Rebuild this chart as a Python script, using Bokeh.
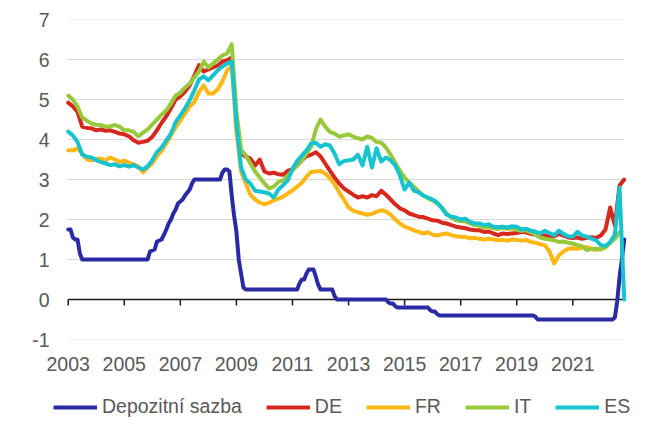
import numpy as np
from bokeh.plotting import figure
from bokeh.layouts import column
from bokeh.models import Range1d, FixedTicker, Legend, LegendItem
from bokeh.embed import file_html
from bokeh.resources import INLINE

# ---- data (months since Jan 2003) ----
months = list(range(0, 239, 2))

deposit_months = [0, 1, 2, 3, 4, 5, 6, 34, 35, 37, 38, 40, 41, 42, 43, 44, 45, 46, 47, 49, 50, 52, 53, 54,
                  65, 66, 67, 68, 69, 70, 71, 72, 73, 74, 75, 76, 98, 99, 100, 101, 102, 103, 105, 106,
                  107, 108, 113, 114, 115, 136, 137, 138, 139, 140, 141, 154, 155, 156, 157, 158, 159,
                  199, 200, 201, 233, 234, 235, 236, 237, 238]
deposit = [1.75, 1.75, 1.55, 1.5, 1.5, 1.15, 1.0, 1.0, 1.2, 1.25, 1.45, 1.5, 1.62, 1.75, 1.9, 2.0, 2.15,
           2.25, 2.4, 2.5, 2.6, 2.75, 2.9, 3.0, 3.0, 3.17, 3.25, 3.25, 3.2, 2.6, 2.1, 1.7, 1.0, 0.65,
           0.3, 0.25, 0.25, 0.4, 0.5, 0.5, 0.65, 0.75, 0.75, 0.57, 0.37, 0.25, 0.25, 0.09, 0.0, 0.0,
           -0.07, -0.1, -0.1, -0.17, -0.2, -0.2, -0.27, -0.3, -0.3, -0.37, -0.4, -0.4, -0.43, -0.5,
           -0.5, -0.45, -0.05, 0.55, 1.0, 1.5]

de = [4.92, 4.83, 4.69, 4.32, 4.29, 4.28, 4.23, 4.25, 4.22, 4.23,
      4.19, 4.15, 4.13, 4.08, 3.98, 3.92, 3.94, 3.97, 4.07, 4.23,
      4.42, 4.58, 4.78, 5.00, 5.08, 5.20, 5.35, 5.60, 5.86, 5.70,
      5.75, 5.80, 5.85, 5.95, 5.98, 6.05, 4.50, 3.65, 3.57, 3.52,
      3.35, 3.50, 3.20, 3.15, 3.17, 3.13, 3.12, 3.22, 3.25, 3.35,
      3.48, 3.58, 3.62, 3.68, 3.58, 3.40, 3.22, 3.05, 2.90, 2.78,
      2.70, 2.62, 2.55, 2.58, 2.55, 2.61, 2.58, 2.72, 2.62, 2.50,
      2.38, 2.28, 2.23, 2.15, 2.11, 2.07, 2.06, 2.02, 1.98, 1.97,
      1.92, 1.90, 1.86, 1.82, 1.80, 1.78, 1.75, 1.73, 1.73, 1.69,
      1.70, 1.65, 1.61, 1.65, 1.64, 1.65, 1.66, 1.69, 1.68, 1.64,
      1.62, 1.58, 1.60, 1.56, 1.58, 1.64, 1.60, 1.55, 1.54, 1.55,
      1.52, 1.54, 1.56, 1.54, 1.60, 1.75, 2.30, 1.85, 2.85, 3.00]

fr = [3.73, 3.73, 3.78, 3.65, 3.50, 3.48, 3.52, 3.52, 3.48, 3.55,
      3.50, 3.44, 3.47, 3.42, 3.38, 3.33, 3.18, 3.30, 3.40, 3.58,
      3.72, 3.90, 4.10, 4.30, 4.48, 4.65, 4.82, 4.94, 5.19, 5.35,
      5.15, 5.15, 5.25, 5.45, 5.72, 5.85, 4.20, 3.20, 2.90, 2.62,
      2.50, 2.42, 2.38, 2.42, 2.48, 2.52, 2.57, 2.65, 2.73, 2.82,
      2.92, 3.07, 3.19, 3.20, 3.21, 3.15, 3.03, 2.88, 2.68, 2.50,
      2.30, 2.22, 2.18, 2.15, 2.12, 2.14, 2.19, 2.23, 2.20, 2.12,
      2.00, 1.90, 1.82, 1.78, 1.73, 1.69, 1.65, 1.68, 1.62, 1.60,
      1.63, 1.65, 1.61, 1.58, 1.57, 1.56, 1.53, 1.54, 1.52, 1.50,
      1.52, 1.50, 1.48, 1.49, 1.47, 1.50, 1.49, 1.47, 1.49, 1.44,
      1.42, 1.38, 1.36, 1.20, 0.90, 1.10, 1.20, 1.27, 1.28, 1.27,
      1.30, 1.31, 1.27, 1.24, 1.26, 1.30, 1.42]

it = [5.10, 5.00, 4.82, 4.55, 4.47, 4.40, 4.37, 4.36, 4.32, 4.33,
      4.36, 4.32, 4.23, 4.23, 4.19, 4.08, 4.17, 4.25, 4.38, 4.50,
      4.62, 4.73, 4.90, 5.10, 5.17, 5.30, 5.40, 5.55, 5.70, 5.95,
      5.80, 5.90, 6.00, 6.10, 6.15, 6.38, 4.70, 3.75, 3.60, 3.40,
      3.20, 3.05, 2.90, 2.78, 2.82, 2.94, 2.98, 3.10, 3.23, 3.36,
      3.48, 3.65, 3.82, 4.25, 4.50, 4.32, 4.19, 4.15, 4.07, 4.10,
      4.13, 4.07, 4.03, 4.00, 4.08, 4.04, 3.94, 3.92, 3.80, 3.62,
      3.42, 3.22, 3.05, 2.92, 2.82, 2.70, 2.60, 2.53, 2.48, 2.40,
      2.30, 2.15, 2.05, 1.98, 1.96, 1.95, 1.90, 1.86, 1.84, 1.80,
      1.82, 1.78, 1.76, 1.79, 1.77, 1.78, 1.74, 1.72, 1.73, 1.68,
      1.62, 1.55, 1.52, 1.50, 1.48, 1.44, 1.45, 1.42, 1.40, 1.36,
      1.33, 1.23, 1.27, 1.27, 1.25, 1.32, 1.42, 1.52, 1.68]

es = [4.20, 4.10, 3.94, 3.62, 3.57, 3.55, 3.48, 3.44, 3.40, 3.36,
      3.38, 3.33, 3.36, 3.32, 3.36, 3.30, 3.25, 3.33, 3.48, 3.69,
      3.80, 3.98, 4.15, 4.44, 4.60, 4.78, 4.98, 5.23, 5.50, 5.58,
      5.48, 5.60, 5.73, 5.82, 5.90, 5.95, 4.40, 3.30, 3.00, 2.90,
      2.72, 2.70, 2.68, 2.65, 2.55, 2.75, 2.86, 2.98, 3.27, 3.46,
      3.60, 3.73, 3.90, 3.92, 3.82, 3.88, 3.85, 3.65, 3.38, 3.46,
      3.48, 3.50, 3.62, 3.35, 3.82, 3.30, 3.78, 3.45, 3.55, 3.48,
      3.35, 3.10, 2.75, 2.92, 2.72, 2.68, 2.60, 2.55, 2.50, 2.42,
      2.28, 2.12, 2.07, 2.05, 2.00, 2.02, 1.94, 1.90, 1.90, 1.86,
      1.88, 1.82, 1.81, 1.82, 1.80, 1.83, 1.82, 1.75, 1.77, 1.72,
      1.70, 1.65, 1.72, 1.66, 1.61, 1.72, 1.64, 1.58, 1.57, 1.69,
      1.60, 1.57, 1.52, 1.48, 1.36, 1.34, 1.44, 1.62, 2.80, 0.00]

x_ticks = [2003, 2005, 2007, 2009, 2011, 2013, 2015, 2017, 2019, 2021]
y_ticks = [-1, 0, 1, 2, 3, 4, 5, 6, 7]
labels = ["Depozitní sazba", "DE", "FR", "IT", "ES"]
colors = ["#2A2AA5", "#D7281E", "#FDB714", "#98C93C", "#17C3CF"]

FONT = "Liberation Sans"
TXT = "#595959"
START = 2003
END = START + months[-1] / 12.0

def to_year(m):
    return START + np.asarray(m, dtype=float) / 12.0

# frame is a little wider than the data span so the legend strip below is not clipped
p = figure(width=670, height=386, output_backend="svg", toolbar_location=None,
           x_range=Range1d(START - 0.56, END + 0.296), y_range=Range1d(-1, 7),
           min_border_left=52, min_border_right=38, min_border_top=19, min_border_bottom=47)
p.outline_line_color = None
p.background_fill_color = "white"
p.border_fill_color = "white"
p.xgrid.visible = False
p.ygrid.visible = False

# horizontal gridlines spanning only the data period
n = len(y_ticks)
p.segment(x0=[START] * n, y0=y_ticks, x1=[END] * n, y1=y_ticks,
          line_color="#D9D9D9", line_width=1, level="underlay")

for ax, ticks in ((p.xaxis, x_ticks), (p.yaxis, y_ticks)):
    ax.ticker = FixedTicker(ticks=ticks)
    ax.major_label_overrides = {t: str(t) for t in ticks}
    ax.axis_line_color = None
    ax.major_tick_line_color = None
    ax.minor_tick_line_color = None
    ax.major_tick_out = 0
    ax.major_tick_in = 0
    ax.major_label_text_font = FONT
    ax.major_label_text_font_size = "19.5px"
    ax.major_label_text_color = TXT
p.xaxis.major_label_standoff = 17
p.yaxis.major_label_standoff = 3

# horizontal axis line at zero with downward tick marks
p.segment(x0=[START], y0=[0], x1=[END], y1=[0], line_color="#1a1a1a", line_width=1.5)
p.segment(x0=x_ticks, y0=[0] * len(x_ticks), x1=x_ticks, y1=[-0.15] * len(x_ticks),
          line_color="#1a1a1a", line_width=1.5)

series = [
    (to_year(deposit_months), deposit),
    (to_year(months[:len(de)]), de),
    (to_year(months[:len(fr)]), fr),
    (to_year(months[:len(it)]), it),
    (to_year(months[:len(es)]), es),
]
for (xs, ys), c in zip(series, colors):
    p.line(xs, ys, line_color=c, line_width=4, line_join="round", line_cap="round")

# legend strip below the chart (its lines lie outside its visible range; only the legend shows)
lf = figure(width=670, height=46, output_backend="svg", toolbar_location=None,
            x_range=Range1d(0, 1), y_range=Range1d(0, 1), min_border=0,
            x_axis_location=None, y_axis_location=None)
lf.outline_line_color = None
lf.xgrid.visible = False
lf.ygrid.visible = False
items = []
for (xs, ys), l, c in zip(series, labels, colors):
    r = lf.line(xs, ys, line_color=c, line_width=4)
    items.append(LegendItem(label=l, renderers=[r]))
legend = Legend(items=items, location=(1, 14), orientation="horizontal",
                glyph_width=44, glyph_height=20, label_height=20, label_width=0,
                label_standoff=5, spacing=24,
                padding=0, margin=0, label_text_font=FONT, label_text_font_size="19.5px",
                label_text_color=TXT, background_fill_alpha=0, border_line_color=None)
lf.add_layout(legend)

open("out.html", "w").write(file_html(column(p, lf), INLINE))
